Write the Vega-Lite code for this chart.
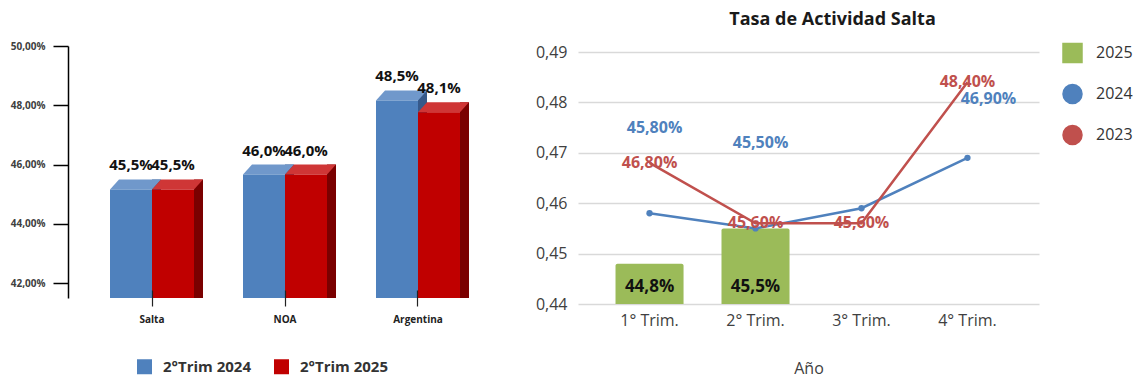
{
  "$schema": "https://vega.github.io/schema/vega-lite/v6.json",
  "padding": {"left": 10, "top": 10, "right": 0, "bottom": 6},
  "config": {
    "font": "Open Sans",
    "view": {"stroke": null},
    "locale": {"number": {"decimal": ",", "thousands": ".", "grouping": [3], "currency": ["$", ""]}}
  },
  "datasets": {
    "regiones": [
      {"region": "Salta", "serie": "2°Trim 2024", "valor": 0.455},
      {"region": "Salta", "serie": "2°Trim 2025", "valor": 0.455},
      {"region": "NOA", "serie": "2°Trim 2024", "valor": 0.46},
      {"region": "NOA", "serie": "2°Trim 2025", "valor": 0.46},
      {"region": "Argentina", "serie": "2°Trim 2024", "valor": 0.485},
      {"region": "Argentina", "serie": "2°Trim 2025", "valor": 0.481}
    ],
    "trimestres": [
      {"trim": "1° Trim.", "anio": "2025", "tasa": 0.448},
      {"trim": "2° Trim.", "anio": "2025", "tasa": 0.455},
      {"trim": "1° Trim.", "anio": "2024", "tasa": 0.458},
      {"trim": "2° Trim.", "anio": "2024", "tasa": 0.455},
      {"trim": "3° Trim.", "anio": "2024", "tasa": 0.459},
      {"trim": "4° Trim.", "anio": "2024", "tasa": 0.469},
      {"trim": "1° Trim.", "anio": "2023", "tasa": 0.468},
      {"trim": "2° Trim.", "anio": "2023", "tasa": 0.456},
      {"trim": "3° Trim.", "anio": "2023", "tasa": 0.456},
      {"trim": "4° Trim.", "anio": "2023", "tasa": 0.484}
    ]
  },
  "bounds": "flush",
  "spacing": 76,
  "resolve": {
    "scale": {"color": "independent", "x": "independent", "y": "independent"},
    "legend": {"color": "independent"}
  },
  "hconcat": [
    {
      "width": 434,
      "height": 252,
      "data": {"name": "regiones"},
      "encoding": {
        "x": {
          "field": "region", "type": "nominal", "sort": ["Salta", "NOA", "Argentina"],
          "scale": {"paddingInner": 0.3, "paddingOuter": 0.2816},
          "axis": {
            "title": null, "domain": false, "labelAngle": 0,
            "labelFontSize": 10, "labelFontWeight": "bold", "labelColor": "#222222",
            "tickColor": "#222222", "tickWidth": 1.2, "tickSize": 16, "offset": -8,
            "labelPadding": 8, "zindex": 1
          }
        },
        "y": {
          "field": "valor", "type": "quantitative",
          "scale": {"domain": [0.415, 0.5], "zero": false, "nice": false},
          "axis": {
            "title": null, "grid": false, "values": [0.42, 0.44, 0.46, 0.48, 0.5], "format": ".2%",
            "domainColor": "#000000", "domainWidth": 1.5,
            "tickColor": "#000000", "tickWidth": 1.5, "tickSize": 15,
            "labelPadding": 8, "labelFontSize": 10, "labelFontWeight": "bold", "labelColor": "#404040"
          }
        }
      },
      "layer": [
        {
          "transform": [{"filter": "datum.serie === '2°Trim 2024'"}],
          "mark": {"type": "bar", "width": 9, "xOffset": 4.5, "color": "#36598A"},
          "encoding": {"y2": {"datum": 0.415}}
        },
        {
          "transform": [{"filter": "datum.serie === '2°Trim 2024'"}],
          "mark": {"type": "point", "shape": "M -1 0.476 L 1 0.476 L 1.429 0 L -0.571 0 Z", "size": 1764, "filled": true, "opacity": 1, "strokeWidth": 0, "color": "#7098CB", "xOffset": -21}
        },
        {
          "transform": [{"filter": "datum.serie === '2°Trim 2024'"}],
          "mark": {"type": "bar", "width": 42, "xOffset": -21, "yOffset": 10},
          "encoding": {
            "y2": {"datum": 0.415},
            "color": {
              "field": "serie", "type": "nominal",
              "scale": {"domain": ["2°Trim 2024", "2°Trim 2025"], "range": ["#4F81BD", "#C00000"]},
              "legend": {"title": null, "orient": "none", "legendX": 69, "legendY": 313, "direction": "horizontal", "symbolType": "square", "symbolSize": 225, "symbolStrokeWidth": 0, "labelFontSize": 15, "labelFontWeight": "bold", "labelColor": "#333333", "labelOffset": 11, "columnPadding": 22, "padding": 0}
            }
          }
        },
        {
          "transform": [{"filter": "datum.serie === '2°Trim 2025'"}],
          "mark": {"type": "bar", "width": 9, "xOffset": 46.5, "color": "#7A0000"},
          "encoding": {"y2": {"datum": 0.415}}
        },
        {
          "transform": [{"filter": "datum.serie === '2°Trim 2025'"}],
          "mark": {"type": "point", "shape": "M -1 0.476 L 1 0.476 L 1.429 0 L -0.571 0 Z", "size": 1764, "filled": true, "opacity": 1, "strokeWidth": 0, "color": "#CF3636", "xOffset": 21}
        },
        {
          "transform": [{"filter": "datum.serie === '2°Trim 2025'"}],
          "mark": {"type": "bar", "width": 42, "xOffset": 21, "yOffset": 10},
          "encoding": {
            "y2": {"datum": 0.415},
            "color": {
              "field": "serie", "type": "nominal",
              "scale": {"domain": ["2°Trim 2024", "2°Trim 2025"], "range": ["#4F81BD", "#C00000"]},
              "legend": {"title": null, "orient": "none", "legendX": 69, "legendY": 313, "direction": "horizontal", "symbolType": "square", "symbolSize": 225, "symbolStrokeWidth": 0, "labelFontSize": 15, "labelFontWeight": "bold", "labelColor": "#333333", "labelOffset": 11, "columnPadding": 22, "padding": 0}
            }
          }
        },
        {
          "transform": [{"filter": "datum.serie === '2°Trim 2024'"}],
          "mark": {"type": "text", "xOffset": -21, "dy": -9, "baseline": "alphabetic", "fontSize": 15, "fontWeight": "bold", "color": "#111111"},
          "encoding": {"text": {"field": "valor", "type": "quantitative", "format": ".1%"}}
        },
        {
          "transform": [{"filter": "datum.serie === '2°Trim 2025'"}],
          "mark": {"type": "text", "xOffset": 21, "dy": -9, "baseline": "alphabetic", "fontSize": 15, "fontWeight": "bold", "color": "#111111"},
          "encoding": {"text": {"field": "valor", "type": "quantitative", "format": ".1%"}}
        }
      ]
    },
    {
      "width": 461,
      "height": 258,
      "data": {"name": "trimestres"},
      "title": {
        "text": "Tasa de Actividad Salta", "fontSize": 18, "fontWeight": "bold", "color": "#1A1A1A",
        "anchor": "middle", "frame": "group", "baseline": "alphabetic", "offset": 0, "dx": 24
      },
      "encoding": {
        "x": {
          "field": "trim", "type": "nominal", "sort": ["1° Trim.", "2° Trim.", "3° Trim.", "4° Trim."],
          "scale": {"paddingInner": 0.358, "paddingOuter": 0.354},
          "axis": {
            "title": "Año", "labelAngle": 0, "domain": false, "ticks": false, "tickSize": 0,
            "labelFontSize": 16, "labelColor": "#404040", "labelPadding": 8,
            "titleFontSize": 16, "titleFontWeight": "normal", "titleColor": "#404040", "titlePadding": 32
          }
        },
        "y": {
          "field": "tasa", "type": "quantitative",
          "scale": {"domain": [0.44, 0.49], "range": [258, 6], "zero": false, "nice": false},
          "axis": {
            "title": null, "values": [0.44, 0.45, 0.46, 0.47, 0.48, 0.49], "format": ".2f",
            "domain": false, "ticks": false, "tickSize": 0, "labelPadding": 11,
            "labelFontSize": 16, "labelColor": "#404040", "gridColor": "#D9D9D9", "gridWidth": 1.5
          }
        }
      },
      "layer": [
        {
          "transform": [{"filter": "datum.anio === '2025'"}],
          "mark": {"type": "bar", "cornerRadiusTopLeft": 2, "cornerRadiusTopRight": 2},
          "encoding": {
            "y2": {"datum": 0.44},
            "color": {
              "field": "anio", "type": "nominal",
              "scale": {"domain": ["2025", "2024", "2023"], "range": ["#9BBB59", "#4F81BD", "#C0504D"]},
              "legend": {
                "title": null, "orient": "none", "legendX": 484, "legendY": -3.5, "symbolType": "circle", "symbolSize": 361,
                "labelFontSize": 16, "labelColor": "#333333", "labelOffset": 13, "rowPadding": 16, "padding": 0,
                "encode": {"symbols": {"update": {
                  "shape": {"signal": "datum.value === '2025' ? 'square' : 'circle'"},
                  "fill": {"signal": "datum.value === '2025' ? '#9BBB59' : datum.value === '2024' ? '#4F81BD' : '#C0504D'"},
                  "stroke": {"value": "transparent"},
                  "opacity": {"value": 1}
                }}}
              }
            }
          }
        },
        {
          "transform": [{"filter": "datum.anio === '2024'"}],
          "mark": {"type": "line", "strokeWidth": 2.5, "point": {"filled": true, "size": 40}},
          "encoding": {
            "color": {
              "field": "anio", "type": "nominal",
              "scale": {"domain": ["2025", "2024", "2023"], "range": ["#9BBB59", "#4F81BD", "#C0504D"]},
              "legend": {
                "title": null, "orient": "none", "legendX": 484, "legendY": -3.5, "symbolType": "circle", "symbolSize": 361,
                "labelFontSize": 16, "labelColor": "#333333", "labelOffset": 13, "rowPadding": 16, "padding": 0,
                "encode": {"symbols": {"update": {
                  "shape": {"signal": "datum.value === '2025' ? 'square' : 'circle'"},
                  "fill": {"signal": "datum.value === '2025' ? '#9BBB59' : datum.value === '2024' ? '#4F81BD' : '#C0504D'"},
                  "stroke": {"value": "transparent"},
                  "opacity": {"value": 1}
                }}}
              }
            }
          }
        },
        {
          "transform": [{"filter": "datum.anio === '2023'"}],
          "mark": {"type": "line", "strokeWidth": 2.5},
          "encoding": {
            "color": {
              "field": "anio", "type": "nominal",
              "scale": {"domain": ["2025", "2024", "2023"], "range": ["#9BBB59", "#4F81BD", "#C0504D"]},
              "legend": {
                "title": null, "orient": "none", "legendX": 484, "legendY": -3.5, "symbolType": "circle", "symbolSize": 361,
                "labelFontSize": 16, "labelColor": "#333333", "labelOffset": 13, "rowPadding": 16, "padding": 0,
                "encode": {"symbols": {"update": {
                  "shape": {"signal": "datum.value === '2025' ? 'square' : 'circle'"},
                  "fill": {"signal": "datum.value === '2025' ? '#9BBB59' : datum.value === '2024' ? '#4F81BD' : '#C0504D'"},
                  "stroke": {"value": "transparent"},
                  "opacity": {"value": 1}
                }}}
              }
            }
          }
        },
        {
          "transform": [{"filter": "datum.anio === '2025'"}],
          "mark": {"type": "text", "dy": -17, "baseline": "middle", "fontSize": 17, "fontWeight": "bold", "color": "#111111"},
          "encoding": {
            "y": {"datum": 0.44},
            "text": {"field": "tasa", "type": "quantitative", "format": ".1%"}
          }
        },
        {
          "transform": [{"filter": "datum.anio === '2023'"}],
          "mark": {"type": "text", "baseline": "middle", "fontSize": 16, "fontWeight": "bold", "color": "#C0504D"},
          "encoding": {"text": {"field": "tasa", "type": "quantitative", "format": ".2%"}}
        },
        {
          "transform": [{"filter": "datum.anio === '2024' && (datum.trim === '1° Trim.' || datum.trim === '2° Trim.')"}],
          "mark": {"type": "text", "baseline": "middle", "dx": 5, "dy": -85, "fontSize": 16, "fontWeight": "bold", "color": "#4F81BD"},
          "encoding": {"text": {"field": "tasa", "type": "quantitative", "format": ".2%"}}
        },
        {
          "transform": [{"filter": "datum.anio === '2024' && datum.trim === '4° Trim.'"}],
          "mark": {"type": "text", "baseline": "middle", "dx": 21, "dy": -59, "fontSize": 16, "fontWeight": "bold", "color": "#4F81BD"},
          "encoding": {"text": {"field": "tasa", "type": "quantitative", "format": ".2%"}}
        }
      ]
    }
  ]
}
